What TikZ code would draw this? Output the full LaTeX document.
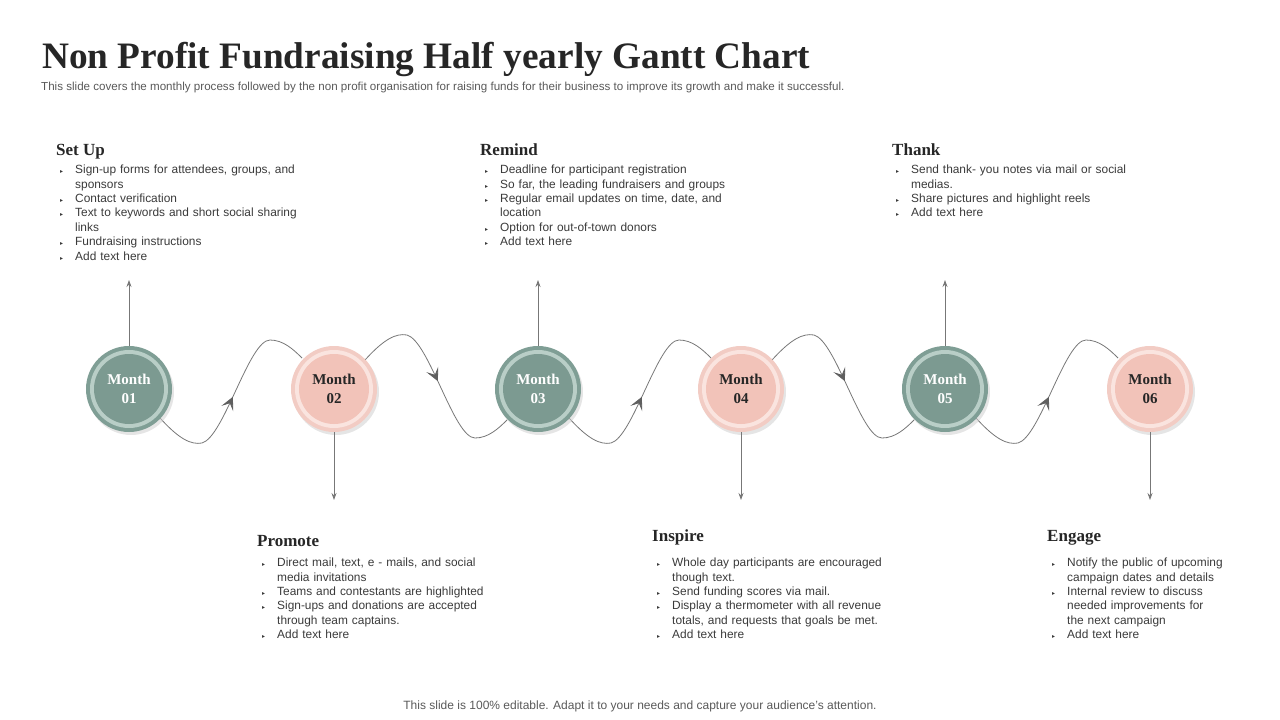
\documentclass[tikz,border=0pt]{standalone}
\usepackage{fontspec}
\setmainfont{Liberation Sans}
\newfontfamily\serifb{Liberation Serif}
\newfontfamily\dejavu{DejaVu Sans}
\usetikzlibrary{arrows.meta,decorations.markings}
\definecolor{gO}{HTML}{7F9E95}\definecolor{gR}{HTML}{B9CEC7}\definecolor{gI}{HTML}{7C9A91}
\definecolor{pO}{HTML}{F2CCC4}\definecolor{pR}{HTML}{FAE4DF}\definecolor{pI}{HTML}{F2C3B9}
\definecolor{txt}{HTML}{3A3A3A}\definecolor{ln}{HTML}{777777}
\newcommand\tri{{\dejavu\fontsize{6pt}{6pt}\selectfont ▸}}
\newcommand\bitem[1]{\par\hangindent=15pt\hangafter=1\noindent\makebox[15pt][l]{\tri}#1}
\tikzset{
 head/.style={anchor=base west,inner sep=0,font=\serifb\bfseries\fontsize{17pt}{17pt}\selectfont,text=black!85},
 blist/.style={anchor=north west,inner sep=0,text width=330pt,align=left,text=txt,font=\fontsize{11.9pt}{14.4pt}\selectfont},
 wave/.style={ln,line width=0.8pt,postaction={decorate},decoration={markings,mark=at position 0.5 with {\arrow[ln!80!black]{Stealth[length=13pt,width=13pt,inset=6pt]}}}},
 conn/.style={ln,line width=0.8pt,-{Stealth[length=7pt,width=5pt]}}
}
\begin{document}
\begin{tikzpicture}[x=1pt,y=-1pt]
\useasboundingbox (0,0) rectangle (1280,720);
\node[anchor=base west,inner sep=0,font=\serifb\bfseries\fontsize{37.3pt}{37pt}\selectfont,text=black!85] (title) at (42,68) {Non Profit Fundraising Half yearly Gantt Chart};
\node[anchor=base west,inner sep=0,font=\fontsize{11.6pt}{12pt}\selectfont,text=black!65] (sub) at (41,90) {This slide covers the monthly process followed by the non profit organisation for raising funds for their business to improve its growth and make it successful.};
\node[anchor=base,inner sep=0,font=\fontsize{12pt}{12pt}\selectfont,text=black!65] (foot) at (640,709) {This slide is 100\% editable. Adapt it to your needs and capture your audience's attention.};
% waves
\foreach \a/\s [count=\i] in {129/1,334/-1,538/1,741/-1,945/1}{
 \draw[wave] (\a+31,389+29*\s) .. controls (\a+50,389+50*\s) and (\a+62,389+56*\s) .. (\a+73,389+54*\s)
   .. controls (\a+95,389+48*\s) and (\a+120,389-49*\s) .. (\a+141,389-49*\s)
   .. controls (\a+154,389-49*\s) and (\a+164,389-40*\s) .. (\a+173,389-31*\s);
}
% circles
\foreach \x/\n/\o/\r/\c/\t [count=\i] in {129/01/gO/gR/gI/white,334/02/pO/pR/pI/black!85,538/03/gO/gR/gI/white,741/04/pO/pR/pI/black!85,945/05/gO/gR/gI/white,1150/06/pO/pR/pI/black!85}{
 \fill[black!20,opacity=0.5] (\x+2,389+3) circle (43);
 \fill[\o] (\x,389) circle (43);
 \fill[\r] (\x,389) circle (39);
 \fill[\c] (\x,389) circle (35);
 \node[circle,minimum size=86pt,inner sep=0,align=center,text=\t,font=\serifb\bfseries\fontsize{15pt}{19pt}\selectfont] (m\i) at (\x,389) {Month\\\n};
}
\coordinate (u1) at (129,280);\coordinate (u3) at (538,280);\coordinate (u5) at (945,280);
\coordinate (d2) at (334,500);\coordinate (d4) at (741,500);\coordinate (d6) at (1150,500);
\draw[conn] (m1.north) -- (u1);\draw[conn] (m3.north) -- (u3);\draw[conn] (m5.north) -- (u5);
\draw[conn] (m2.south) -- (d2);\draw[conn] (m4.south) -- (d4);\draw[conn] (m6.south) -- (d6);
% texts
\node[head] (h1) at (56,155) {Set Up};
\node[blist] (l1) at (60,159) {\bitem{Sign-up forms for attendees, groups, and\newline sponsors}\bitem{Contact verification}\bitem{Text to keywords and short social sharing\newline links}\bitem{Fundraising instructions}\bitem{Add text here}};
\node[head] (h3) at (480,155) {Remind};
\node[blist] (l3) at (485,159) {\bitem{Deadline for participant registration}\bitem{So far, the leading fundraisers and groups}\bitem{Regular email updates on time, date, and\newline location}\bitem{Option for out-of-town donors}\bitem{Add text here}};
\node[head] (h5) at (892,155) {Thank};
\node[blist] (l5) at (896,159) {\bitem{Send thank- you notes via mail or social\newline medias.}\bitem{Share pictures and highlight reels}\bitem{Add text here}};
\node[head] (h2) at (257,546) {Promote};
\node[blist] (l2) at (262,552) {\bitem{Direct mail, text, e - mails, and social\newline media invitations}\bitem{Teams and contestants are  highlighted}\bitem{Sign-ups and donations are accepted\newline through team captains.}\bitem{Add text here}};
\node[head] (h4) at (652,541) {Inspire};
\node[blist] (l4) at (657,552) {\bitem{Whole day participants are encouraged\newline though text.}\bitem{Send funding scores via mail.}\bitem{Display a thermometer with all revenue\newline totals, and requests that goals be met.}\bitem{Add text here}};
\node[head] (h6) at (1047,541) {Engage};
\node[blist] (l6) at (1052,552) {\bitem{Notify the public of upcoming\newline campaign dates and details}\bitem{Internal review to discuss\newline needed improvements for\newline the next campaign}\bitem{Add text here}};
\end{tikzpicture}
\end{document}
